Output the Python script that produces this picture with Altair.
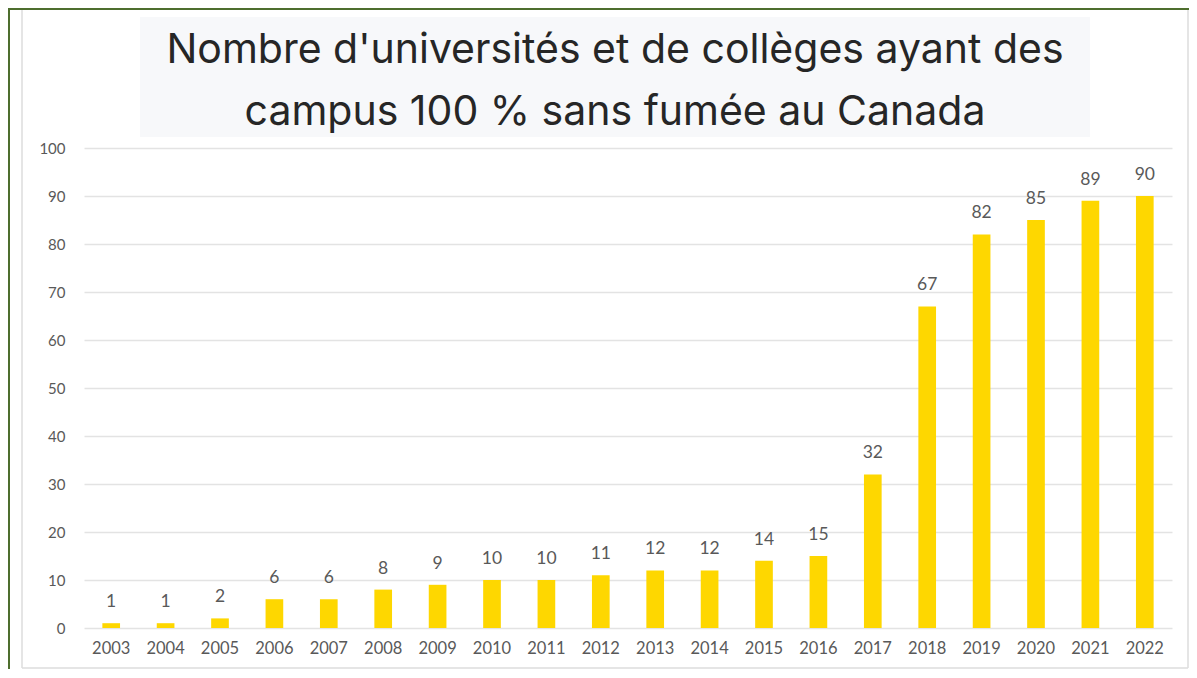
import altair as alt
import pandas as pd

# ---- data ----
years = [str(y) for y in range(2003, 2023)]
counts = [1, 1, 2, 6, 6, 8, 9, 10, 10, 11, 12, 12, 14, 15, 32, 67, 82, 85, 89, 90]
title_lines = ["Nombre d'universités et de collèges ayant des",
               "campus 100 % sans fumée au Canada"]
y_ticks = list(range(0, 101, 10))

df = pd.DataFrame({"year": years, "count": counts})
one = pd.DataFrame({"k": [0]})

W, H = 1088, 480
BAR = "#FED700"
GREY_TXT = "#595959"

x_enc = alt.X("year:O", title=None,
              scale=alt.Scale(paddingInner=0.675, paddingOuter=0.3375),
              axis=alt.Axis(labelAngle=0, labelFont="Lato", labelFontSize=16.5,
                            labelColor=GREY_TXT, ticks=False, domain=False,
                            labelPadding=12))
y_enc = alt.Y("count:Q", title=None,
              scale=alt.Scale(domain=[0, 100], nice=False),
              axis=alt.Axis(values=y_ticks, labelFont="Lato", labelFontSize=15,
                            labelColor=GREY_TXT, ticks=False, domain=False,
                            labelPadding=19, gridColor="#e3e3e3", gridWidth=1.5))

bars = alt.Chart(df).mark_bar(color=BAR).encode(x=x_enc, y=y_enc)

labels = alt.Chart(df).mark_text(
    font="Lato", fontSize=17.5, color=GREY_TXT, baseline="alphabetic", dy=-16
).encode(x=alt.X("year:O"), y=alt.Y("count:Q"), text=alt.Text("count:Q"))

# decorative frame lines (screenshot border)
green_top = alt.Chart(one).mark_rule(color="#4E6E2E", strokeWidth=2).encode(
    x=alt.value(-76), x2=alt.value(1105), y=alt.value(-139))
green_left = alt.Chart(one).mark_rule(color="#4E6E2E", strokeWidth=2).encode(
    x=alt.value(-75), y=alt.value(-140), y2=alt.value(521))
grey_left = alt.Chart(one).mark_rule(color="#dddddd", strokeWidth=1.5).encode(
    x=alt.value(-62), y=alt.value(-138), y2=alt.value(520))
grey_bottom = alt.Chart(one).mark_rule(color="#dddddd", strokeWidth=1.5).encode(
    x=alt.value(-62), x2=alt.value(1104), y=alt.value(520))
grey_right = alt.Chart(one).mark_rule(color="#dddddd", strokeWidth=1.5).encode(
    x=alt.value(1104), y=alt.value(-138), y2=alt.value(520))

# title box + title text
title_box = alt.Chart(one).mark_rect(color="#F7F8FA").encode(
    x=alt.value(56), x2=alt.value(1006), y=alt.value(-131), y2=alt.value(-11))
title1 = alt.Chart(one).mark_text(
    text=title_lines[0], font="Inter", fontSize=41, color="#262626",
    align="center", baseline="alphabetic"
).encode(x=alt.value(531), y=alt.value(-85))
title2 = alt.Chart(one).mark_text(
    text=title_lines[1], font="Inter", fontSize=41, color="#262626",
    align="center", baseline="alphabetic"
).encode(x=alt.value(531), y=alt.value(-23))

chart = alt.layer(
    grey_left, grey_bottom, grey_right, green_top, green_left,
    title_box, title1, title2, bars, labels
).properties(
    width=W, height=H,
    autosize=alt.AutoSizeParams(type="none"),
    padding={"left": 76, "top": 140, "right": 17, "bottom": 41},
    background="white",
).configure_view(stroke=None)

chart.save("out.html", embed_options={"renderer": "svg", "actions": False})
